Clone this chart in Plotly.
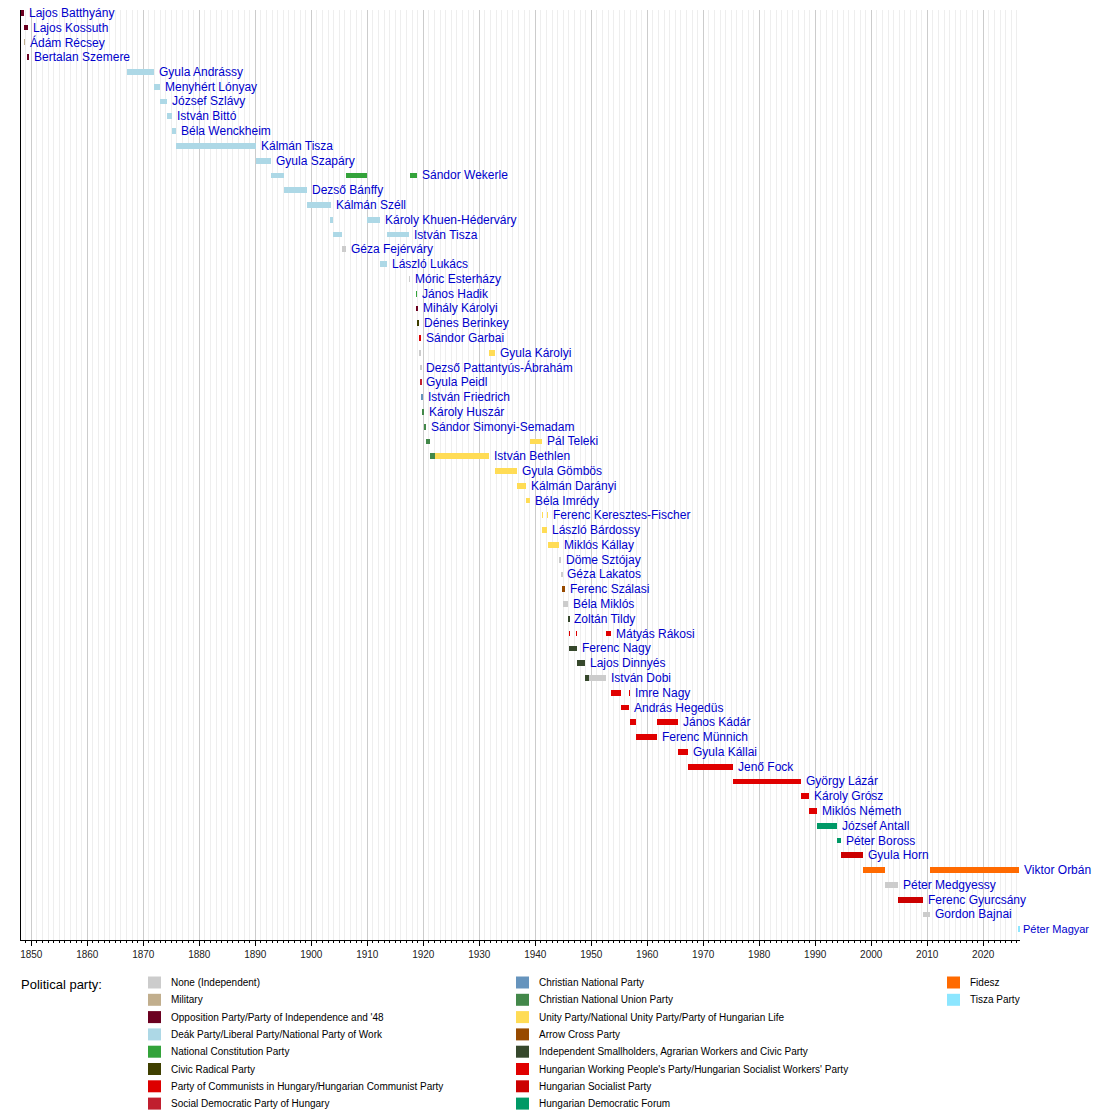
import plotly.graph_objects as go

# parties (legend order) -------------------------------------------------
party_keys = ["IND", "MIL", "OPP", "DEAK", "NCP", "CRP", "PCH", "SDP",
              "CNP", "CNU", "UNITY", "ARROW", "FKGP", "MDP", "MSZP", "MDF",
              "FIDESZ", "TISZA"]
party_labels = [
    "None (Independent)",
    "Military",
    "Opposition Party/Party of Independence and '48",
    "Deák Party/Liberal Party/National Party of Work",
    "National Constitution Party",
    "Civic Radical Party",
    "Party of Communists in Hungary/Hungarian Communist Party",
    "Social Democratic Party of Hungary",
    "Christian National Party",
    "Christian National Union Party",
    "Unity Party/National Unity Party/Party of Hungarian Life",
    "Arrow Cross Party",
    "Independent Smallholders, Agrarian Workers and Civic Party",
    "Hungarian Working People's Party/Hungarian Socialist Workers' Party",
    "Hungarian Socialist Party",
    "Hungarian Democratic Forum",
    "Fidesz",
    "Tisza Party",
]
party_colors = ["#cccccc", "#c1ae8d", "#6b0020", "#add8e6", "#33a33a", "#3f3f00",
                "#dd0000", "#c01f2f", "#6694bd", "#43884a", "#ffdc55", "#974a00",
                "#36482c", "#e00000", "#cc0000", "#009966", "#ff6a00", "#8ce6ff"]

# prime ministers, top to bottom -----------------------------------------
pm_names = [
    "Lajos Batthyány", "Lajos Kossuth", "Ádám Récsey", "Bertalan Szemere",
    "Gyula Andrássy", "Menyhért Lónyay", "József Szlávy", "István Bittó",
    "Béla Wenckheim", "Kálmán Tisza", "Gyula Szapáry", "Sándor Wekerle",
    "Dezső Bánffy", "Kálmán Széll", "Károly Khuen-Héderváry", "István Tisza",
    "Géza Fejérváry", "László Lukács", "Móric Esterházy", "János Hadik",
    "Mihály Károlyi", "Dénes Berinkey", "Sándor Garbai", "Gyula Károlyi",
    "Dezső Pattantyús-Ábrahám", "Gyula Peidl", "István Friedrich",
    "Károly Huszár", "Sándor Simonyi-Semadam", "Pál Teleki", "István Bethlen",
    "Gyula Gömbös", "Kálmán Darányi", "Béla Imrédy", "Ferenc Keresztes-Fischer",
    "László Bárdossy", "Miklós Kállay", "Döme Sztójay", "Géza Lakatos",
    "Ferenc Szálasi", "Béla Miklós", "Zoltán Tildy", "Mátyás Rákosi",
    "Ferenc Nagy", "Lajos Dinnyés", "István Dobi", "Imre Nagy",
    "András Hegedüs", "János Kádár", "Ferenc Münnich", "Gyula Kállai",
    "Jenő Fock", "György Lázár", "Károly Grósz", "Miklós Németh",
    "József Antall", "Péter Boross", "Gyula Horn", "Viktor Orbán",
    "Péter Medgyessy", "Ferenc Gyurcsány", "Gordon Bajnai", "Péter Magyar",
]

# terms in office (decimal years) ----------------------------------------
term_pm = [
    "Lajos Batthyány", "Lajos Kossuth", "Ádám Récsey", "Bertalan Szemere",
    "Gyula Andrássy", "Menyhért Lónyay", "József Szlávy", "István Bittó",
    "Béla Wenckheim", "Kálmán Tisza", "Gyula Szapáry",
    "Sándor Wekerle", "Sándor Wekerle", "Sándor Wekerle",
    "Dezső Bánffy", "Kálmán Széll",
    "Károly Khuen-Héderváry", "Károly Khuen-Héderváry",
    "István Tisza", "István Tisza",
    "Géza Fejérváry", "László Lukács", "Móric Esterházy", "János Hadik",
    "Mihály Károlyi", "Dénes Berinkey", "Sándor Garbai",
    "Gyula Károlyi", "Gyula Károlyi",
    "Dezső Pattantyús-Ábrahám", "Gyula Peidl", "István Friedrich",
    "Károly Huszár", "Sándor Simonyi-Semadam",
    "Pál Teleki", "Pál Teleki", "István Bethlen", "István Bethlen",
    "Gyula Gömbös", "Kálmán Darányi", "Béla Imrédy",
    "Ferenc Keresztes-Fischer", "Ferenc Keresztes-Fischer",
    "László Bárdossy", "Miklós Kállay", "Döme Sztójay", "Géza Lakatos",
    "Ferenc Szálasi", "Béla Miklós", "Zoltán Tildy",
    "Mátyás Rákosi", "Mátyás Rákosi", "Mátyás Rákosi",
    "Ferenc Nagy", "Lajos Dinnyés", "István Dobi", "István Dobi",
    "Imre Nagy", "Imre Nagy", "András Hegedüs", "János Kádár", "János Kádár",
    "Ferenc Münnich", "Gyula Kállai", "Jenő Fock", "György Lázár",
    "Károly Grósz", "Miklós Németh", "József Antall", "Péter Boross",
    "Gyula Horn", "Viktor Orbán", "Viktor Orbán", "Péter Medgyessy",
    "Ferenc Gyurcsány", "Gordon Bajnai", "Péter Magyar",
]
term_start = [
    1848.21, 1848.76, 1848.76, 1849.33,
    1867.13, 1871.87, 1872.92, 1874.22,
    1875.17, 1875.80, 1890.20,
    1892.88, 1906.27, 1917.63,
    1895.04, 1899.15,
    1903.49, 1910.04,
    1903.84, 1913.44,
    1905.46, 1912.31, 1917.46, 1918.83,
    1918.83, 1919.03, 1919.22,
    1919.34, 1931.65,
    1919.53, 1919.58, 1919.60,
    1919.90, 1920.20,
    1920.55, 1939.13, 1921.28, 1922.05,
    1932.75, 1936.78, 1938.37,
    1941.25, 1942.18,
    1941.25, 1942.19, 1944.22, 1944.66,
    1944.79, 1944.97, 1945.87,
    1946.09, 1947.41, 1952.62,
    1946.09, 1947.41, 1948.94, 1949.60,
    1953.51, 1956.81, 1955.29, 1956.84, 1961.70,
    1958.08, 1965.50, 1967.28, 1975.37,
    1987.48, 1988.90, 1990.39, 1993.95,
    1994.54, 1998.51, 2010.41, 2002.40,
    2004.74, 2009.28, 2026.37,
]
term_end = [
    1848.76, 1849.42, 1848.79, 1849.65,
    1871.87, 1872.92, 1874.22, 1875.17,
    1875.80, 1890.20, 1892.88,
    1895.04, 1910.04, 1918.83,
    1899.15, 1903.49,
    1903.84, 1912.31,
    1905.46, 1917.46,
    1906.27, 1913.44, 1917.63, 1918.85,
    1919.03, 1919.22, 1919.58,
    1919.53, 1932.75,
    1919.61, 1919.60, 1919.90,
    1920.20, 1920.55,
    1921.28, 1941.25, 1922.05, 1931.65,
    1936.76, 1938.37, 1939.13,
    1941.27, 1942.20,
    1942.18, 1944.22, 1944.66, 1944.79,
    1945.24, 1945.87, 1946.09,
    1946.11, 1947.43, 1953.51,
    1947.41, 1948.94, 1949.60, 1952.62,
    1955.29, 1956.84, 1956.81, 1958.08, 1965.50,
    1961.70, 1967.28, 1975.37, 1987.48,
    1988.90, 1990.39, 1993.95, 1994.54,
    1998.51, 2002.40, 2026.37, 2004.74,
    2009.28, 2010.41, 2026.55,
]
term_party = [
    "OPP", "OPP", "MIL", "OPP",
    "DEAK", "DEAK", "DEAK", "DEAK",
    "DEAK", "DEAK", "DEAK",
    "DEAK", "NCP", "NCP",
    "DEAK", "DEAK",
    "DEAK", "DEAK",
    "DEAK", "DEAK",
    "IND", "DEAK", "IND", "NCP",
    "OPP", "CRP", "PCH",
    "IND", "UNITY",
    "IND", "SDP", "CNP",
    "CNU", "CNU",
    "CNU", "UNITY", "CNU", "UNITY",
    "UNITY", "UNITY", "UNITY",
    "UNITY", "UNITY",
    "UNITY", "UNITY", "IND", "IND",
    "ARROW", "IND", "FKGP",
    "PCH", "PCH", "MDP",
    "FKGP", "FKGP", "FKGP", "IND",
    "MDP", "MDP", "MDP", "MDP", "MDP",
    "MDP", "MDP", "MDP", "MDP",
    "MDP", "MDP", "MDF", "MDF",
    "MSZP", "FIDESZ", "FIDESZ", "IND",
    "MSZP", "IND", "TISZA",
]

x_from, x_till = 1848.16, 2026.57
year_ticks_major = 10
year_ticks_minor = 1

# ----------------------------------------------------------------------
# the page body adds an 8px margin, so the figure is shrunk by that much
OFF = 8
PW, PH = 999, 930
ML, MT = 21 - OFF, 10 - OFF
W, H = 1100 - OFF, 1110 - OFF
MR, MB = W - ML - PW, H - MT - PH
FONT = "Liberation Sans, Arial, sans-serif"

# last label would run past the visible page edge at full size
small_labels = {"Péter Magyar"}


def px_x(px):
    # page pixel -> paper fraction
    return (px - OFF - ML) / PW


def px_y(py):
    return (MT + OFF + PH - py) / PH


row_of = {n: i for i, n in enumerate(pm_names)}

fig = go.Figure()

for key, color in zip(party_keys, party_colors):
    idx = [i for i, p in enumerate(term_party) if p == key]
    if not idx:
        continue
    fig.add_trace(go.Bar(
        orientation="h",
        y=[row_of[term_pm[i]] for i in idx],
        base=[term_start[i] for i in idx],
        x=[term_end[i] - term_start[i] for i in idx],
        width=0.39,
        marker=dict(color=color, line=dict(width=0)),
        showlegend=False,
        hoverinfo="skip",
    ))

# name labels after the last term
last_end = {}
for n, e in zip(term_pm, term_end):
    last_end[n] = max(e, last_end.get(n, e))

for i, n in enumerate(pm_names):
    size, shift = (11, 1) if n in small_labels else (12, 3)
    fig.add_annotation(
        x=last_end[n], y=i, text=n, showarrow=False,
        xanchor="left", yanchor="middle", xshift=shift,
        font=dict(family=FONT, size=size, color="#0000cc"),
    )

# legend block
fig.add_annotation(
    xref="paper", yref="paper", x=px_x(19), y=px_y(984), text="Political party:",
    showarrow=False, xanchor="left", yanchor="middle",
    font=dict(family=FONT, size=13, color="black"),
)
col_x = [148, 516, 947]
for k, (lab, color) in enumerate(zip(party_labels, party_colors)):
    c, r = divmod(k, 8)
    cy = 982.5 + r * 17.3
    x0 = col_x[c]
    fig.add_shape(
        type="rect", xref="paper", yref="paper",
        x0=px_x(x0), x1=px_x(x0 + 13), y0=px_y(cy + 6), y1=px_y(cy - 6),
        fillcolor=color, line=dict(width=0),
    )
    fig.add_annotation(
        xref="paper", yref="paper", x=px_x(x0 + 21), y=px_y(cy), text=lab,
        showarrow=False, xanchor="left", yanchor="middle",
        font=dict(family=FONT, size=10, color="black"),
    )

fig.update_layout(
    width=W, height=H,
    margin=dict(l=ML, r=MR, t=MT, b=MB),
    plot_bgcolor="white", paper_bgcolor="white",
    barmode="overlay",
    bargap=0,
    showlegend=False,
    font=dict(family=FONT),
)
fig.update_xaxes(
    range=[x_from, x_till],
    tick0=1850, dtick=year_ticks_major,
    ticks="outside", ticklen=5, tickcolor="black", tickwidth=1,
    showline=True, linecolor="black", linewidth=1,
    showgrid=True, gridcolor="#cccccc", gridwidth=1,
    zeroline=False,
    tickfont=dict(family=FONT, size=10, color="#222222"),
    minor=dict(dtick=year_ticks_minor, tick0=1850, ticks="outside", ticklen=2,
               tickcolor="black", showgrid=True, gridcolor="#eeeeee", gridwidth=1),
)
fig.update_yaxes(
    range=[62.73, -0.19],
    showticklabels=False, ticks="",
    showgrid=False, zeroline=False,
    showline=True, linecolor="black", linewidth=1,
)

fig.write_html("out.html")
